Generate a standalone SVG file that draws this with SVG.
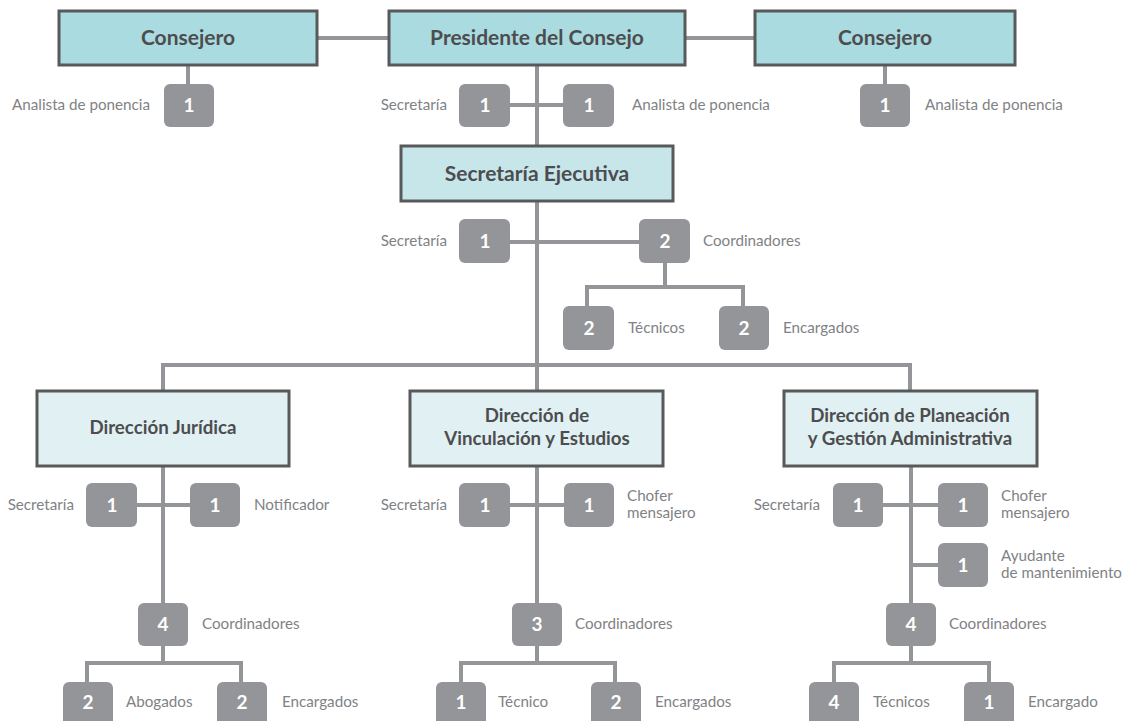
<svg xmlns="http://www.w3.org/2000/svg" width="1127" height="721" viewBox="0 0 1127 721">
<style>
.top{fill:#aadbe1;stroke:#58595b;stroke-width:3}
.mid{fill:#c6e6ea;stroke:#58595b;stroke-width:3}
.dir{fill:#e1f1f3;stroke:#58595b;stroke-width:3}
.t{font-family:Lato,"Open Sans",sans-serif;font-weight:bold;font-size:21px;fill:#4d4d4f;text-anchor:middle}
.d{font-size:18.7px}
.b{fill:#939598}
.n{font-family:Lato,"Open Sans",sans-serif;font-weight:bold;font-size:19px;fill:#fff;text-anchor:middle}
.l{font-family:Lato,"Open Sans",sans-serif;font-size:15.2px;fill:#808285}
.r{text-anchor:end}
.c{stroke:#939598;stroke-width:4;fill:none}
</style>
<g id="connectors">
<path class="c" d="M317 38H389M685 38H755M188 65V84M885 65V84M537 65V146M510 105H563"/>
<path class="c" d="M537 201V365M510 242H639M665 263V287M587 306V287H743V306"/>
<path class="c" d="M163 391V365H910V391M537 365V391"/>
<path class="c" d="M163 466V603M137 505H190M163 646V663M87 682V663H241V682"/>
<path class="c" d="M537 466V603M510 505H564M537 646V663M461 682V663H615V682"/>
<path class="c" d="M911 466V603M883 505H938M911 565H938M911 646V663M834 682V663H989V682"/>
</g>
<g id="consejero-izq"><rect class="top" x="59" y="11" width="258" height="54"/><text class="t" x="188" y="45">Consejero</text></g>
<g id="presidente"><rect class="top" x="389" y="11" width="296" height="54"/><text class="t" x="537" y="45">Presidente del Consejo</text></g>
<g id="consejero-der"><rect class="top" x="755" y="11" width="260" height="54"/><text class="t" x="885" y="45">Consejero</text></g>
<g id="sec-ejecutiva"><rect class="mid" x="401" y="146" width="272" height="55"/><text class="t" x="537" y="181">Secretaría Ejecutiva</text></g>
<g id="dir-juridica"><rect class="dir" x="37" y="391" width="252" height="75"/><text class="t d" x="163" y="434">Dirección Jurídica</text></g>
<g id="dir-vinculacion"><rect class="dir" x="410" y="391" width="253" height="75"/><text class="t d" x="537" y="422">Dirección de</text><text class="t d" x="537" y="445">Vinculación y Estudios</text></g>
<g id="dir-planeacion"><rect class="dir" x="784" y="391" width="253" height="75"/><text class="t d" x="910" y="422">Dirección de Planeación</text><text class="t d" x="910" y="445">y Gestión Administrativa</text></g>

<g id="a1"><rect class="b" x="164" y="84" width="50" height="43" rx="6"/><text class="n" x="189" y="112">1</text><text class="l r" x="150" y="110">Analista de ponencia</text></g>
<g id="a2"><rect class="b" x="459" y="84" width="51" height="43" rx="6"/><text class="n" x="485" y="112">1</text><text class="l r" x="447" y="110">Secretaría</text></g>
<g id="a3"><rect class="b" x="563" y="84" width="51" height="43" rx="6"/><text class="n" x="589" y="112">1</text><text class="l" x="632" y="110">Analista de ponencia</text></g>
<g id="a4"><rect class="b" x="860" y="84" width="50" height="43" rx="6"/><text class="n" x="885" y="112">1</text><text class="l" x="925" y="110">Analista de ponencia</text></g>

<g id="s1"><rect class="b" x="459" y="219" width="51" height="44" rx="6"/><text class="n" x="485" y="248">1</text><text class="l r" x="447" y="246">Secretaría</text></g>
<g id="s2"><rect class="b" x="639" y="219" width="51" height="44" rx="6"/><text class="n" x="665" y="248">2</text><text class="l" x="703" y="246">Coordinadores</text></g>
<g id="s3"><rect class="b" x="563" y="306" width="51" height="44" rx="6"/><text class="n" x="589" y="335">2</text><text class="l" x="628" y="333">Técnicos</text></g>
<g id="s4"><rect class="b" x="719" y="306" width="50" height="44" rx="6"/><text class="n" x="744" y="335">2</text><text class="l" x="783" y="333">Encargados</text></g>

<g id="j1"><rect class="b" x="86" y="483" width="51" height="44" rx="6"/><text class="n" x="112" y="512">1</text><text class="l r" x="74" y="510">Secretaría</text></g>
<g id="j2"><rect class="b" x="190" y="483" width="50" height="44" rx="6"/><text class="n" x="215" y="512">1</text><text class="l" x="254" y="510">Notificador</text></g>
<g id="j3"><rect class="b" x="138" y="603" width="50" height="43" rx="6"/><text class="n" x="163" y="631">4</text><text class="l" x="202" y="629">Coordinadores</text></g>
<g id="j4"><rect class="b" x="63" y="682" width="50" height="44" rx="6"/><text class="n" x="88" y="709">2</text><text class="l" x="126" y="707">Abogados</text></g>
<g id="j5"><rect class="b" x="217" y="682" width="50" height="44" rx="6"/><text class="n" x="242" y="709">2</text><text class="l" x="282" y="707">Encargados</text></g>

<g id="v1"><rect class="b" x="459" y="483" width="51" height="44" rx="6"/><text class="n" x="485" y="512">1</text><text class="l r" x="447" y="510">Secretaría</text></g>
<g id="v2"><rect class="b" x="564" y="483" width="50" height="44" rx="6"/><text class="n" x="589" y="512">1</text><text class="l" x="627" y="501">Chofer</text><text class="l" x="627" y="518">mensajero</text></g>
<g id="v3"><rect class="b" x="512" y="603" width="50" height="43" rx="6"/><text class="n" x="537" y="631">3</text><text class="l" x="575" y="629">Coordinadores</text></g>
<g id="v4"><rect class="b" x="436" y="682" width="50" height="44" rx="6"/><text class="n" x="461" y="709">1</text><text class="l" x="498" y="707">Técnico</text></g>
<g id="v5"><rect class="b" x="591" y="682" width="50" height="44" rx="6"/><text class="n" x="616" y="709">2</text><text class="l" x="655" y="707">Encargados</text></g>

<g id="p1"><rect class="b" x="833" y="483" width="50" height="44" rx="6"/><text class="n" x="858" y="512">1</text><text class="l r" x="820" y="510">Secretaría</text></g>
<g id="p2"><rect class="b" x="938" y="483" width="50" height="44" rx="6"/><text class="n" x="963" y="512">1</text><text class="l" x="1001" y="501">Chofer</text><text class="l" x="1001" y="518">mensajero</text></g>
<g id="p3"><rect class="b" x="938" y="543" width="50" height="44" rx="6"/><text class="n" x="963" y="572">1</text><text class="l" x="1001" y="561">Ayudante</text><text class="l" x="1001" y="578">de mantenimiento</text></g>
<g id="p4"><rect class="b" x="886" y="603" width="50" height="43" rx="6"/><text class="n" x="911" y="631">4</text><text class="l" x="949" y="629">Coordinadores</text></g>
<g id="p5"><rect class="b" x="809" y="682" width="50" height="44" rx="6"/><text class="n" x="834" y="709">4</text><text class="l" x="873" y="707">Técnicos</text></g>
<g id="p6"><rect class="b" x="964" y="682" width="50" height="44" rx="6"/><text class="n" x="989" y="709">1</text><text class="l" x="1028" y="707">Encargado</text></g>
</svg>
